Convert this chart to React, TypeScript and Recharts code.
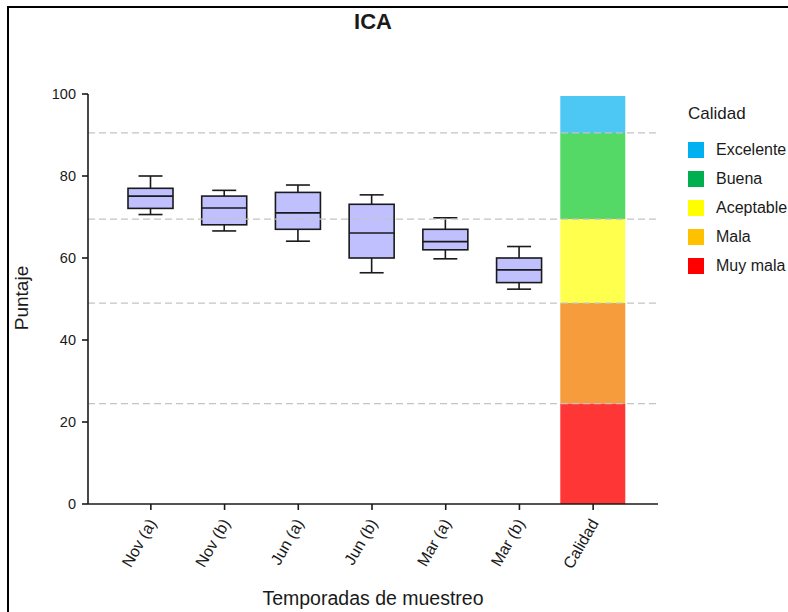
import React from "react";
import { Bar, ComposedChart, ReferenceLine, XAxis, YAxis } from "recharts";

// sampling seasons and the quality reference column
const seasons = ["Nov (a)", "Nov (b)", "Jun (a)", "Jun (b)", "Mar (a)", "Mar (b)", "Calidad"];

// box plot stats per season (null for the Calidad column)
const lows = [70.6, 66.6, 64.1, 56.4, 59.8, 52.4, null];
const q1s = [72.1, 68.1, 67.0, 60.0, 62.0, 54.0, null];
const medians = [75.1, 72.2, 71.0, 66.1, 64.0, 57.1, null];
const q3s = [77.0, 75.1, 76.0, 73.1, 67.0, 60.0, null];
const highs = [80.0, 76.5, 77.8, 75.4, 69.8, 62.8, null];

// quality classes, bottom to top, with the top limit of each band
const qualityNames = ["Muy mala", "Mala", "Aceptable", "Buena", "Excelente"];
const qualityTops = [24.5, 49, 69.5, 90.5, 99.5];
const bandColors = ["#ff3636", "#f79c3c", "#ffff4d", "#55d966", "#4dc8f5"];
const legendColors = ["#ff0000", "#ffc000", "#ffff00", "#00b050", "#00b0f0"];

const yTicks = [0, 20, 40, 60, 80, 100];

const data = seasons.map((s, i) => {
  const row: Record<string, any> = {
    season: s,
    lo: lows[i],
    q1: q1s[i],
    med: medians[i],
    q3: q3s[i],
    hi: highs[i],
  };
  const isQ = s === "Calidad";
  qualityNames.forEach((n, k) => {
    row[n] = isQ ? qualityTops[k] - (k === 0 ? 0 : qualityTops[k - 1]) : null;
  });
  return row;
});

const FONT = "'Liberation Sans', Arial, sans-serif";
const INK = "#1a1a1a";

function BoxShape(props: any) {
  const { x, y, width, height, payload } = props;
  if (!payload || payload.hi == null || !height) return null;
  const top = Math.min(y, y + height);
  const h = Math.abs(height);
  const py = (v: number) => top + ((payload.hi - v) / (payload.hi - payload.lo)) * h;
  const cx = x + width / 2;
  const cap = 12;
  return (
    <g stroke={INK} strokeWidth={1.6}>
      <line x1={cx} x2={cx} y1={py(payload.hi)} y2={py(payload.q3)} />
      <line x1={cx} x2={cx} y1={py(payload.q1)} y2={py(payload.lo)} />
      <line x1={cx - cap} x2={cx + cap} y1={py(payload.hi)} y2={py(payload.hi)} />
      <line x1={cx - cap} x2={cx + cap} y1={py(payload.lo)} y2={py(payload.lo)} />
      <rect x={x} y={py(payload.q3)} width={width} height={py(payload.q1) - py(payload.q3)} fill="#c0c0ff" />
      <line x1={x} x2={x + width} y1={py(payload.med)} y2={py(payload.med)} />
    </g>
  );
}

function XTick(props: any) {
  const { x, y, payload } = props;
  return (
    <text
      transform={`translate(${x + 6},${y + 11}) rotate(-60)`}
      textAnchor="end"
      fontSize={16}
      fontFamily={FONT}
      fill={INK}
    >
      {payload.value}
    </text>
  );
}

export default function App() {
  return (
    <div style={{ position: "relative", width: 788, height: 612, background: "#fff", fontFamily: FONT, color: INK }}>
      <style>{"body{margin:0}"}</style>
      <div style={{ position: "absolute", left: 7, top: 6, right: 0, bottom: 0, borderTop: `2px solid #000`, borderLeft: `2px solid #000` }} />
      <div style={{ position: "absolute", left: 0, width: 746, top: 9, textAlign: "center", fontSize: 22, fontWeight: "bold" }}>ICA</div>
      <div style={{ position: "absolute", left: 0, width: 746, top: 587, textAlign: "center", fontSize: 19.5 }}>
        Temporadas de muestreo
      </div>
      <div
        style={{
          position: "absolute",
          left: 22,
          top: 298,
          fontSize: 19,
          transform: "translate(-50%,-50%) rotate(-90deg)",
          whiteSpace: "nowrap",
        }}
      >
        Puntaje
      </div>
      <div style={{ position: "absolute", left: 688, top: 104 }}>
        <div style={{ fontSize: 17, marginBottom: 11 }}>Calidad</div>
        {qualityNames
          .map((n, k) => ({ n, c: legendColors[k] }))
          .reverse()
          .map((it) => (
            <div key={it.n} style={{ display: "flex", alignItems: "center", height: 29 }}>
              <span style={{ width: 16, height: 16, background: it.c, display: "inline-block", marginRight: 12 }} />
              <span style={{ fontSize: 16, whiteSpace: "nowrap" }}>{it.n}</span>
            </div>
          ))}
      </div>
      <div style={{ position: "absolute", left: 0, top: 0 }}>
        <ComposedChart width={788} height={612} data={data} margin={{ top: 94, right: 130, bottom: 0, left: 0 }}>
          <XAxis
            dataKey="season"
            padding={{ left: 26, right: 28 }}
            height={108}
            interval={0}
            tick={<XTick />}
            tickSize={6}
            axisLine={{ stroke: INK, strokeWidth: 1.6 }}
            tickLine={{ stroke: INK, strokeWidth: 1.6 }}
          />
          <XAxis xAxisId="q" dataKey="season" padding={{ left: 26, right: 28 }} hide />
          <XAxis
            xAxisId="top"
            orientation="top"
            dataKey="season"
            height={0}
            tick={false}
            tickLine={false}
            axisLine={{ stroke: INK, strokeWidth: 1.6 }}
          />
          <YAxis
            domain={[0, 100]}
            ticks={yTicks}
            width={88}
            tickSize={6}
            tickMargin={6}
            tick={{ fontSize: 14.5, fontFamily: FONT, fill: INK }}
            axisLine={{ stroke: INK, strokeWidth: 1.6 }}
            tickLine={{ stroke: INK, strokeWidth: 1.6 }}
          />
          <YAxis
            yAxisId="r"
            orientation="right"
            domain={[0, 100]}
            width={0}
            tick={false}
            tickLine={false}
            axisLine={{ stroke: INK, strokeWidth: 1.6 }}
          />
          {qualityNames.map((n, k) => (
            <Bar key={n} xAxisId="q" dataKey={n} stackId="q" barSize={65} fill={bandColors[k]} isAnimationActive={false} />
          ))}
          {qualityTops.slice(0, 4).map((v) => (
            <ReferenceLine key={v} y={v} stroke="#c4c4c4" strokeDasharray="7 4" strokeWidth={1.2} />
          ))}
          <Bar
            dataKey={(d: any) => (d.hi == null ? null : [d.lo, d.hi])}
            barSize={45}
            shape={<BoxShape />}
            isAnimationActive={false}
          />
        </ComposedChart>
      </div>
    </div>
  );
}
